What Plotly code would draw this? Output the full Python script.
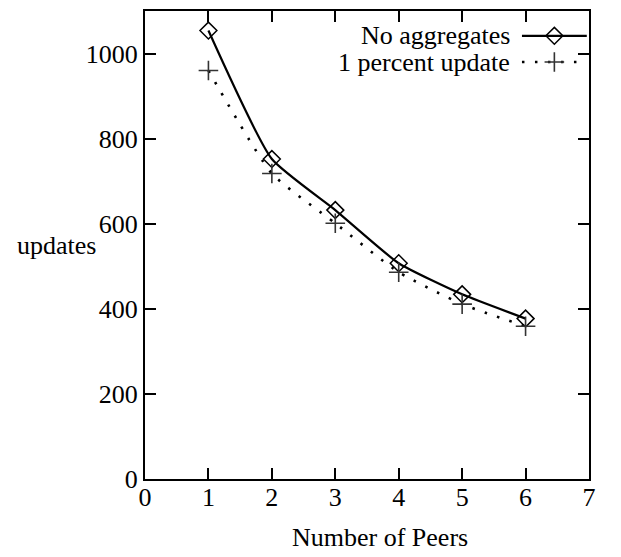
import plotly.graph_objects as go

peers = [1, 2, 3, 4, 5, 6]
no_aggregates = [1054, 752, 632, 507, 434, 377]
one_percent = [960, 718, 601, 486, 411, 359]

x_ticks = [0, 1, 2, 3, 4, 5, 6, 7]
y_ticks = [0, 200, 400, 600, 800, 1000]

series_names = ["No aggregates", "1 percent update"]

FONT = "Liberation Serif"
FS = 26
SMOOTH = 0.5

fig = go.Figure()

fig.add_trace(go.Scatter(
    x=peers, y=no_aggregates, mode="lines",
    line=dict(color="black", width=2.2, shape="spline", smoothing=SMOOTH),
    showlegend=False, hoverinfo="skip"))
fig.add_trace(go.Scatter(
    x=peers, y=one_percent, mode="lines",
    line=dict(color="black", width=2.6, shape="spline", smoothing=SMOOTH, dash="2.5px,10.5px"),
    showlegend=False, hoverinfo="skip"))
fig.add_trace(go.Scatter(
    x=peers, y=no_aggregates, mode="markers",
    marker=dict(symbol="diamond-open", size=13, color="black", line=dict(width=1.5, color="black")),
    showlegend=False, hoverinfo="skip"))
fig.add_trace(go.Scatter(
    x=peers, y=one_percent, mode="markers",
    marker=dict(symbol="cross-thin-open", size=14, color="#333333", line=dict(width=1.6, color="#333333")),
    showlegend=False, hoverinfo="skip"))

# legend keys (gnuplot style: text right-aligned, sample to the right)
key_x0, key_x1, key_xm = 0.849, 0.995, 0.922
key_rows = [0.947, 0.891]
fig.add_trace(go.Scatter(
    x=[key_x0, key_x1], y=[key_rows[0]] * 2, mode="lines",
    line=dict(color="black", width=2.2), xaxis="x2", yaxis="y2",
    showlegend=False, hoverinfo="skip"))
fig.add_trace(go.Scatter(
    x=[key_xm], y=[key_rows[0]], mode="markers",
    marker=dict(symbol="diamond-open", size=13, color="black", line=dict(width=1.5, color="black")),
    xaxis="x2", yaxis="y2", showlegend=False, hoverinfo="skip"))
fig.add_trace(go.Scatter(
    x=[key_x0, key_x1], y=[key_rows[1]] * 2, mode="lines",
    line=dict(color="black", width=2.6, dash="2.5px,10.5px"), xaxis="x2", yaxis="y2",
    showlegend=False, hoverinfo="skip"))
fig.add_trace(go.Scatter(
    x=[key_xm], y=[key_rows[1]], mode="markers",
    marker=dict(symbol="cross-thin-open", size=14, color="#333333", line=dict(width=1.6, color="#333333")),
    xaxis="x2", yaxis="y2", showlegend=False, hoverinfo="skip"))

annotations = []
for name, yy in zip(series_names, key_rows):
    annotations.append(dict(
        text=name, x=0.827, y=yy, xref="paper", yref="paper",
        xanchor="right", yanchor="middle", showarrow=False,
        font=dict(family=FONT, size=FS, color="black")))
annotations.append(dict(
    text="updates", x=-0.105, y=0.50, xref="paper", yref="paper",
    xanchor="right", yanchor="middle", showarrow=False,
    font=dict(family=FONT, size=FS, color="black")))
annotations.append(dict(
    text="Number of Peers", x=0.53, y=-0.125, xref="paper", yref="paper",
    xanchor="center", yanchor="middle", showarrow=False,
    font=dict(family=FONT, size=FS, color="black")))

axis_common = dict(
    showline=True, linecolor="black", linewidth=2, mirror="ticks",
    ticks="inside", ticklen=11, tickwidth=2, tickcolor="black",
    showgrid=False, zeroline=False,
    tickfont=dict(family=FONT, size=FS, color="black"))

fig.update_layout(
    width=613, height=549,
    margin=dict(l=137, r=32, t=1, b=78),
    paper_bgcolor="white", plot_bgcolor="white",
    xaxis=dict(range=[0, 7], tickvals=x_ticks, ticklabelstandoff=-6, **axis_common),
    yaxis=dict(range=[0, 1100], tickvals=y_ticks, ticklabelstandoff=0, **axis_common),
    xaxis2=dict(range=[0, 1], overlaying="x", visible=False),
    yaxis2=dict(range=[0, 1], overlaying="y", visible=False),
    annotations=annotations,
    showlegend=False,
)

fig.write_html("out.html")
